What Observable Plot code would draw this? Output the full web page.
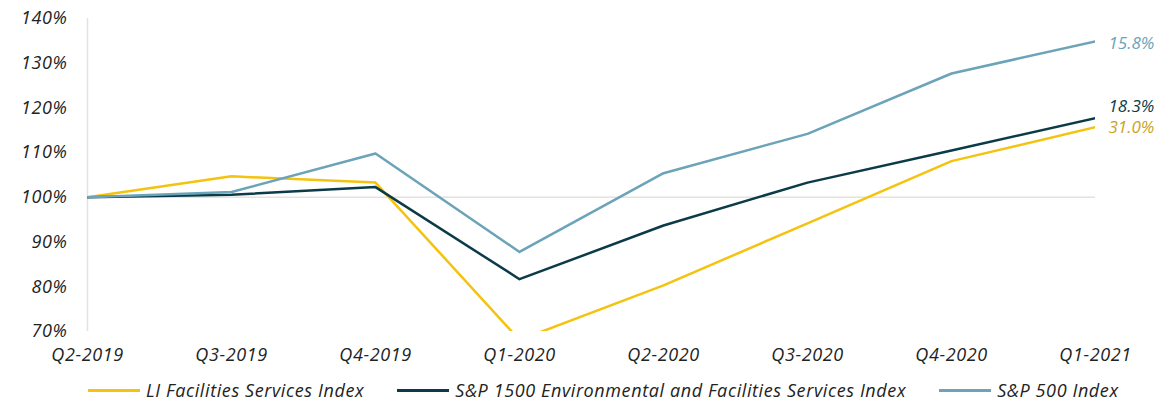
<!DOCTYPE html>
<html>
<head>
<meta charset="utf-8">
<script src="https://cdn.jsdelivr.net/npm/d3@7"></script>
<script src="https://cdn.jsdelivr.net/npm/@observablehq/plot@0.6"></script>
<style>
  html, body { margin: 0; padding: 0; background: #fff; }
  #chart { width: 1166px; }
  #chart svg g[aria-label$="tick label"] { letter-spacing: 0.6px; }
  .legend { display: flex; align-items: center; height: 30px; padding-top: 5px; padding-left: 88px;
    font-family: "Open Sans", sans-serif; font-style: italic; font-size: 18px; letter-spacing: 0.6px; color: #222; }
  .legend .item { display: flex; align-items: center; margin-right: 33px; }
  .legend .sw { width: 52px; height: 3px; margin-right: 6px; }
</style>
</head>
<body>
<div id="chart"></div>
<script>
const quarters = ["Q2-2019","Q3-2019","Q4-2019","Q1-2020","Q2-2020","Q3-2020","Q4-2020","Q1-2021"];
const seriesNames = ["LI Facilities Services Index", "S&P 1500 Environmental and Facilities Services Index", "S&P 500 Index"];
const liValues   = [100, 104.7, 103.3, 68.1, 80.3, 94.2, 108.1, 115.7];
const sp1500Values = [100, 100.6, 102.3, 81.7, 93.7, 103.3, 110.5, 117.7];
const sp500Values  = [100, 101.2, 109.8, 87.8, 105.4, 114.2, 127.7, 134.9];
const colors = ["#f4c30f", "#0b3b48", "#6ba3b8"];
const labelColors = ["#c9a227", "#0b3b48", "#6ba3b8"];
const endLabels = ["31.0%", "18.3%", "15.8%"];
const endLabelY = [115.7, 120.4, 134.5];
const yTicks = [70, 80, 90, 100, 110, 120, 130, 140];

const allValues = [liValues, sp1500Values, sp500Values];
const data = [];
allValues.forEach((vals, s) => vals.forEach((v, i) => data.push({series: seriesNames[s], quarter: quarters[i], value: v})));
const labelData = seriesNames.map((s, i) => ({series: s, quarter: quarters[quarters.length - 1], y: endLabelY[i], text: endLabels[i], color: labelColors[i]}));

const chart = Plot.plot({
  width: 1166,
  height: 370,
  marginLeft: 87,
  marginRight: 71,
  marginTop: 18,
  marginBottom: 39,
  style: {fontFamily: "'Open Sans', sans-serif", fontStyle: "italic", fontSize: "17px", color: "#222", background: "#fff"},
  x: {type: "point", domain: quarters, padding: 0, label: null},
  y: {domain: [70, 140], label: null},
  color: {domain: seriesNames, range: colors},
  marks: [
    Plot.ruleY([100], {stroke: "#e4e2db", strokeWidth: 1.5}),
    Plot.ruleX([quarters[0]], {y1: 70, y2: 140, stroke: "#e4e2db", strokeWidth: 1.5}),
    Plot.axisY({ticks: yTicks, tickFormat: d => d + "%", tickSize: 0, tickPadding: 20, fontSize: 18}),
    Plot.axisX({tickSize: 0, tickPadding: 17, fontSize: 18}),
    Plot.line(data, {x: "quarter", y: "value", z: "series", stroke: "series", strokeWidth: 2.5, clip: true}),
    Plot.text(labelData, {x: "quarter", y: "y", text: "text", fill: "color", textAnchor: "start", dx: 13, fontSize: 17})
  ]
});
document.getElementById("chart").appendChild(chart);

const legend = document.createElement("div");
legend.className = "legend";
seriesNames.forEach((s, i) => {
  const item = document.createElement("div");
  item.className = "item";
  const sw = document.createElement("span");
  sw.className = "sw";
  sw.style.background = colors[i];
  const lab = document.createElement("span");
  lab.textContent = s;
  item.appendChild(sw); item.appendChild(lab);
  legend.appendChild(item);
});
document.getElementById("chart").appendChild(legend);
</script>
</body>
</html>
